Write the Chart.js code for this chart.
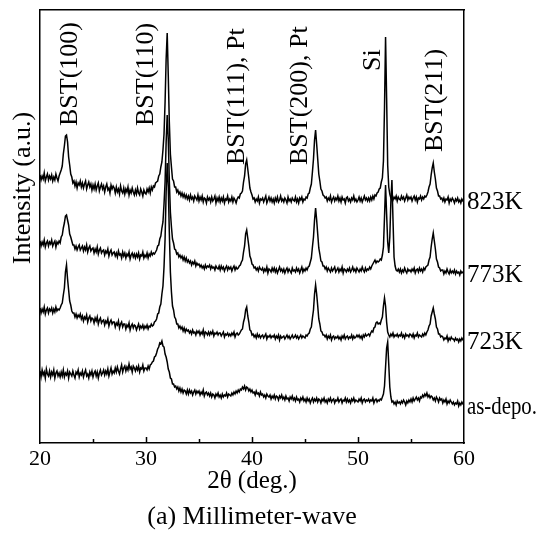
<!DOCTYPE html>
<html>
<head>
<meta charset="utf-8">
<script src="https://cdn.jsdelivr.net/npm/chart.js@4.4.1/dist/chart.umd.min.js"></script>
<style>
  html, body { margin: 0; padding: 0; background: #fff; }
</style>
</head>
<body>
<canvas id="xrdChart" width="538" height="533"></canvas>
<script>
const FONT = '"Liberation Serif", "Times New Roman", serif';

// scan starts at 20 deg, one reading every 0.1 deg up to 60 deg
const angleStart = 20;
const angleStep = 0.1;

const sampleNames = ['823K', '773K', '723K', 'as-depo.'];

// stacked intensities (a.u.), one row per degree
const int823 = [
  268,263,267,264,270,262,266,269,263,267,
  264,268,262,266,263,269,265,262,267,270,
  273,277,289,297,307,308,301,286,278,269,
  266,260,262,257,261,255,260,258,262,256,
  260,255,259,262,254,258,261,256,259,253,
  258,254,259,253,257,260,252,256,259,254,
  257,251,256,259,253,255,250,258,254,257,
  255,250,256,251,254,249,257,252,250,255,
  249,254,251,256,248,253,250,255,251,248,
  253,249,255,250,248,254,251,247,253,250,
  249,254,251,255,250,256,253,257,256,260,
  261,262,267,269,276,281,293,309,341,384,
  410,368,321,289,276,264,262,256,256,251,
  253,249,251,247,250,246,249,245,248,244,
  247,243,248,244,246,242,247,245,243,248,
  242,246,243,247,241,245,244,240,246,243,
  245,241,246,242,244,247,240,245,242,246,
  241,245,242,246,240,244,243,247,241,244,
  242,246,241,245,243,240,244,246,245,249,
  250,252,261,267,279,283,274,265,255,251,
  248,244,245,241,244,242,246,240,244,243,
  245,241,244,247,240,243,246,242,245,241,
  244,240,245,242,246,241,243,247,242,244,
  241,245,243,240,246,242,244,241,245,243,
  242,246,241,244,240,245,243,246,241,244,
  243,246,245,249,250,255,259,271,284,303,
  313,299,284,269,262,254,252,248,247,245,
  246,242,245,243,247,241,244,246,242,245,
  243,247,242,245,241,246,243,244,240,245,
  246,242,244,241,245,243,247,242,244,241,
  243,246,242,245,241,244,247,243,245,242,
  245,242,246,243,247,244,248,247,250,251,
  254,255,261,265,282,335,406,345,278,256,
  249,245,247,243,246,244,247,242,246,244,
  243,247,244,246,242,245,248,243,246,244,
  246,242,245,247,243,246,241,245,244,247,
  243,246,244,247,246,248,251,256,259,268,
  275,280,271,264,255,252,247,247,244,245,
  242,245,241,244,243,246,240,244,242,245,
  243,240,244,242,245,241,243,240,244,242,
  243
];

const int773 = [
  202,197,201,198,203,196,200,202,197,201,
  199,203,197,200,202,196,201,199,202,200,
  206,208,215,220,227,228,223,218,209,206,
  202,198,198,194,197,193,196,198,193,195,
  197,192,196,193,198,191,195,197,192,194,
  195,190,194,191,196,189,193,195,190,192,
  193,188,192,190,194,187,191,193,188,190,
  191,187,190,186,192,188,189,185,191,187,
  190,185,189,187,191,184,188,190,186,189,
  185,189,186,190,184,188,187,191,185,188,
  186,190,185,189,187,191,188,190,189,191,
  193,197,198,204,207,215,221,239,261,301,
  328,304,263,231,216,204,200,194,193,189,
  190,186,188,185,187,183,186,182,185,181,
  183,180,182,178,181,179,182,177,180,178,
  179,176,178,175,177,174,178,175,177,176,
  178,174,177,175,176,173,177,175,174,177,
  173,177,174,176,172,175,177,173,176,174,
  176,172,175,177,173,176,174,175,177,178,
  181,183,191,197,209,213,205,197,187,184,
  179,178,175,176,173,175,172,176,174,173,
  175,171,174,172,176,170,174,173,171,175,
  172,175,171,174,170,173,176,172,174,171,
  174,170,173,175,171,174,172,170,175,172,
  173,171,175,172,174,170,173,176,171,174,
  172,175,173,176,177,181,185,196,206,223,
  235,223,209,195,189,182,181,177,177,174,
  176,172,175,173,171,175,172,174,176,171,
  173,175,171,174,172,176,170,174,173,171,
  174,172,175,171,173,176,172,174,171,175,
  173,171,174,172,176,173,171,175,172,174,
  173,176,174,177,179,181,183,180,182,181,
  182,184,183,188,196,226,258,229,201,190,
  206,241,263,224,186,177,173,172,174,171,
  174,170,173,171,175,172,170,174,172,173,
  171,174,172,175,170,173,174,171,175,172,
  174,171,175,173,176,177,178,183,186,196,
  204,210,202,194,184,181,176,175,172,173,
  173,169,172,170,174,171,169,173,170,172,
  170,173,169,172,170,171,168,172,170,171,
  170
];

const int723 = [
  135,130,134,131,136,129,133,135,130,134,
  132,135,130,134,131,136,132,134,133,135,
  138,140,148,155,171,178,164,153,142,138,
  132,130,130,126,129,125,128,126,129,124,
  127,122,126,124,128,121,125,127,122,125,
  124,120,125,122,126,119,123,125,120,122,
  123,118,122,120,124,117,121,123,119,121,
  121,116,120,118,122,115,119,121,116,119,
  119,114,118,116,120,113,117,119,115,118,
  117,113,116,119,114,117,115,118,114,117,
  115,118,114,117,116,119,117,118,121,122,
  124,129,130,136,139,149,157,176,204,251,
  280,257,211,171,151,137,133,126,124,119,
  119,115,117,114,116,112,115,111,114,112,
  113,110,112,109,113,110,111,108,112,110,
  112,108,111,109,113,107,111,110,108,111,
  108,111,109,112,107,110,109,111,108,110,
  110,107,109,111,106,109,108,110,107,109,
  107,110,108,111,106,109,110,108,109,111,
  113,114,121,125,133,136,127,121,113,112,
  108,109,106,108,105,109,106,108,105,107,
  108,105,107,109,104,107,106,108,105,107,
  106,108,104,107,105,108,103,107,105,106,
  107,104,106,108,105,107,104,106,108,105,
  106,108,105,107,104,106,108,105,107,106,
  105,108,107,109,110,114,116,125,133,149,
  158,149,137,124,119,112,111,108,108,106,
  108,104,107,105,108,103,106,107,104,106,
  105,107,104,106,103,107,105,108,104,106,
  107,104,106,105,108,104,107,105,106,108,
  106,108,105,107,104,108,106,109,107,108,
  109,107,110,112,111,115,116,120,121,119,
  120,119,123,126,137,145,137,121,111,108,
  106,109,107,110,106,108,107,109,106,108,
  107,110,106,108,105,109,107,108,106,109,
  108,106,109,105,108,107,110,106,108,107,
  106,109,107,110,108,111,113,117,119,127,
  131,135,129,124,116,114,109,109,106,107,
  106,103,105,104,107,102,105,103,106,104,
  104,102,105,103,104,101,104,102,105,103,
  103
];

const intAsDepo = [
  72,66,73,68,71,65,74,69,67,72,
  66,71,68,73,65,70,72,67,70,66,
  71,67,73,66,70,68,72,65,71,69,
  67,72,68,65,71,69,73,66,70,68,
  72,66,70,73,67,69,65,71,68,72,
  66,70,72,67,71,65,70,73,68,70,
  73,68,72,69,74,67,71,75,69,72,
  70,75,71,76,72,69,74,78,71,75,
  77,72,76,73,79,74,76,71,77,75,
  72,76,73,77,71,75,74,78,72,75,
  75,73,77,74,78,79,81,82,86,87,
  90,94,96,100,99,102,97,96,89,86,
  81,74,71,65,64,59,59,56,57,54,
  56,52,55,51,54,50,53,52,49,53,
  49,53,50,52,48,51,53,49,52,50,
  52,48,51,49,53,47,50,51,48,50,
  47,50,46,49,48,45,49,47,50,46,
  48,45,49,46,48,47,50,46,49,48,
  47,50,48,51,49,52,50,53,51,54,
  53,56,54,57,53,56,55,52,54,51,
  53,50,51,48,52,49,50,47,51,48,
  49,46,48,45,49,47,46,48,44,47,
  45,48,44,47,46,43,47,45,48,44,
  46,43,47,44,45,42,46,44,47,43,
  45,42,46,43,44,41,45,43,46,42,
  44,41,45,42,44,40,43,45,41,44,
  42,45,41,44,43,40,44,42,45,41,
  43,40,44,42,45,41,43,44,40,43,
  42,45,41,43,44,40,43,42,45,41,
  44,41,43,40,44,42,45,41,43,42,
  41,44,42,45,40,43,44,41,43,42,
  44,41,43,42,45,40,43,44,41,43,
  42,44,43,46,49,57,76,95,101,79,
  56,46,41,42,39,41,38,42,40,41,
  39,42,40,43,41,38,42,40,43,41,
  44,41,45,42,44,46,43,45,42,46,
  45,48,46,49,47,50,46,48,45,47,
  46,43,45,42,46,44,41,45,43,44,
  40,43,41,44,39,42,40,43,41,39,
  41,38,40,39,42,37,40,38,41,39,
  38
];

// reflection assignments and where their text starts (angle, intensity)
const peakLabels = ['BST(100)', 'BST(110)', 'BST(111), Pt', 'BST(200), Pt', 'Si', 'BST(211)'];
const peakLabelAngle = [22.8, 30.0, 38.6, 44.55, 51.45, 57.25];
const peakLabelFoot = [317, 317, 278, 278, 372, 291];

const majorTicks = [30, 40, 50];
const minorTicks = [25, 35, 45, 55];

const seriesValues = [int823, int773, int723, intAsDepo];

function toPoints(values) {
  return values.map((v, i) => ({ x: +(angleStart + i * angleStep).toFixed(1), y: v }));
}

// inward ticks on the angle axis, peak names, sample names and the y title
const xrdAnnotations = {
  id: 'xrdAnnotations',
  afterDraw(chart) {
    const { ctx, chartArea, scales: { x, y } } = chart;
    ctx.save();
    ctx.strokeStyle = '#000';
    ctx.lineWidth = 1.5;
    ctx.beginPath();
    majorTicks.forEach(v => {
      const px = Math.round(x.getPixelForValue(v)) + 0.5;
      ctx.moveTo(px, chartArea.bottom);
      ctx.lineTo(px, chartArea.bottom - 6);
    });
    minorTicks.forEach(v => {
      const px = Math.round(x.getPixelForValue(v)) + 0.5;
      ctx.moveTo(px, chartArea.bottom);
      ctx.lineTo(px, chartArea.bottom - 4);
    });
    ctx.stroke();

    ctx.fillStyle = '#000';
    ctx.font = '26px ' + FONT;
    ctx.textAlign = 'left';
    ctx.textBaseline = 'middle';
    peakLabels.forEach((text, i) => {
      ctx.save();
      ctx.translate(x.getPixelForValue(peakLabelAngle[i]), y.getPixelForValue(peakLabelFoot[i]));
      ctx.rotate(-Math.PI / 2);
      ctx.fillText(text, 0, 0);
      ctx.restore();
    });

    // sample names sit at the end of each trace, squeezed if the canvas edge is near
    ctx.font = '25px ' + FONT;
    const nameLeft = chartArea.right + 3;
    const room = chart.width - nameLeft - 1;
    sampleNames.forEach((name, i) => {
      const values = seriesValues[i];
      const py = y.getPixelForValue(values[values.length - 1]) + 2;
      const w = ctx.measureText(name).width;
      const sx = w > room ? room / w : 1;
      ctx.save();
      ctx.translate(nameLeft, py);
      ctx.scale(sx, 1);
      ctx.fillText(name, 0, 0);
      ctx.restore();
    });

    ctx.font = '26px ' + FONT;
    ctx.textAlign = 'center';
    ctx.translate(chartArea.left - 17, 188);
    ctx.rotate(-Math.PI / 2);
    ctx.fillText('Intensity (a.u.)', 0, 0);
    ctx.restore();
  }
};

const frameBorder = { display: true, color: '#000', width: 1.5 };

new Chart(document.getElementById('xrdChart'), {
  type: 'line',
  data: {
    datasets: seriesValues.map((values, i) => ({
      label: sampleNames[i],
      data: toPoints(values),
      borderColor: '#000',
      borderWidth: 1.5,
      pointRadius: 0,
      tension: 0,
      fill: false
    }))
  },
  options: {
    responsive: false,
    animation: false,
    devicePixelRatio: 1,
    layout: { padding: { left: 0, right: 74, top: 0, bottom: 0 } },
    plugins: {
      legend: { display: false },
      tooltip: { enabled: false },
      title: {
        display: true,
        text: '(a) Millimeter-wave',
        position: 'bottom',
        fullSize: false,
        color: '#000',
        font: { family: FONT, size: 26, weight: 'normal', lineHeight: 1.2 },
        padding: 0
      }
    },
    scales: {
      x: {
        type: 'linear',
        position: 'bottom',
        min: 20,
        max: 60,
        ticks: { stepSize: 10, color: '#000', font: { family: FONT, size: 22 }, padding: 3, maxRotation: 0 },
        grid: { display: false, drawTicks: false },
        border: frameBorder,
        title: {
          display: true,
          text: '2θ (deg.)',
          color: '#000',
          font: { family: FONT, size: 25, lineHeight: 1.2 },
          padding: { top: 0, bottom: 5 }
        },
        afterFit: s => { s.height = 58.8; }
      },
      xTop: {
        type: 'linear',
        position: 'top',
        min: 20,
        max: 60,
        ticks: { display: false },
        grid: { display: false, drawTicks: false },
        border: frameBorder,
        afterFit: s => { s.height = 10; }
      },
      y: {
        type: 'linear',
        position: 'left',
        min: 0,
        max: 433,
        ticks: { display: false },
        grid: { display: false, drawTicks: false },
        border: frameBorder,
        afterFit: s => { s.width = 40; }
      },
      yRight: {
        type: 'linear',
        position: 'right',
        min: 0,
        max: 433,
        ticks: { display: false },
        grid: { display: false, drawTicks: false },
        border: frameBorder,
        afterFit: s => { s.width = 0; }
      }
    }
  },
  plugins: [xrdAnnotations]
});
</script>
</body>
</html>
